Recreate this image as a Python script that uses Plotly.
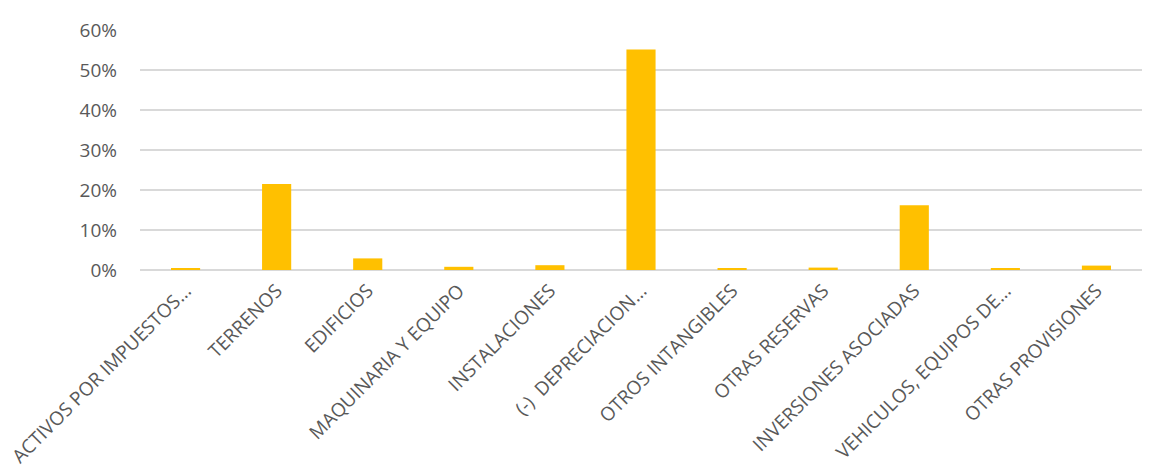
import plotly.graph_objects as go

categories = [
    "ACTIVOS POR IMPUESTOS...",
    "TERRENOS",
    "EDIFICIOS",
    "MAQUINARIA Y EQUIPO",
    "INSTALACIONES",
    "(-)  DEPRECIACION...",
    "OTROS INTANGIBLES",
    "OTRAS RESERVAS",
    "INVERSIONES ASOCIADAS",
    "VEHICULOS, EQUIPOS DE...",
    "OTRAS PROVISIONES",
]
shares = [0.003, 0.215, 0.029, 0.008, 0.012, 0.551, 0.003, 0.006, 0.162, 0.003, 0.011]
y_ticks = [0, 0.1, 0.2, 0.3, 0.4, 0.5, 0.6]
y_tick_labels = ["0%", "10%", "20%", "30%", "40%", "50%", "60%"]

fig = go.Figure(
    go.Bar(
        x=categories,
        y=shares,
        marker=dict(color="#FFC000", line=dict(width=0)),
    )
)

font_family = "Open Sans, Liberation Sans, sans-serif"

fig.update_layout(
    width=1149,
    height=473,
    margin=dict(l=140, r=7, t=30, b=203),
    paper_bgcolor="white",
    plot_bgcolor="white",
    bargap=0.68,
    showlegend=False,
    font=dict(family=font_family, color="#595959"),
)

fig.update_xaxes(
    tickangle=-45,
    tickfont=dict(size=19, color="#595959"),
    showgrid=False,
    showline=False,
    ticks="",
    ticklabelstandoff=5,
    automargin=False,
)

fig.update_yaxes(
    range=[0, 0.6],
    tickvals=y_ticks,
    ticktext=y_tick_labels,
    tickfont=dict(size=19, color="#595959"),
    showgrid=True,
    gridcolor="#D9D9D9",
    gridwidth=1.5,
    zeroline=True,
    zerolinecolor="#D9D9D9",
    zerolinewidth=1.5,
    showline=False,
    ticks="",
    ticklabelstandoff=22,
    automargin=False,
)

fig.write_html("out.html")
